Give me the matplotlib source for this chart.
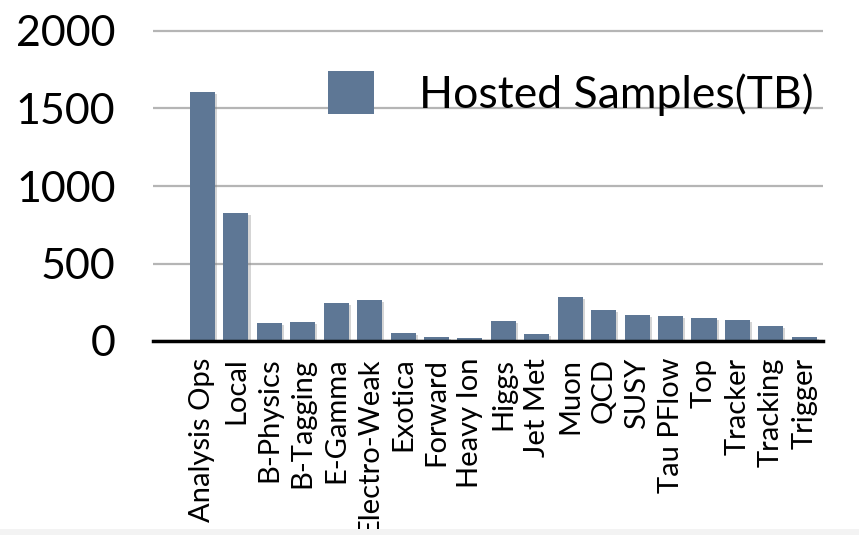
import matplotlib
matplotlib.use("Agg")
import matplotlib.pyplot as plt
import matplotlib.patheffects as pe
from matplotlib.patches import Patch, Rectangle

# data
groups = ["Analysis Ops", "Local", "B-Physics", "B-Tagging", "E-Gamma",
          "Electro-Weak", "Exotica", "Forward", "Heavy Ion", "Higgs",
          "Jet Met", "Muon", "QCD", "SUSY", "Tau PFlow", "Top",
          "Tracker", "Tracking", "Trigger"]
hosted_tb = [1605, 827, 117, 124, 246, 266, 53, 24, 18, 131,
             47, 284, 200, 168, 161, 148, 135, 97, 26]
y_ticks = [0, 500, 1000, 1500, 2000]

bar_color = "#5e7795"

plt.rcParams["font.family"] = ["Lato", "DejaVu Sans"]

fig = plt.figure(figsize=(8.59, 5.35), dpi=100)
fig.patch.set_facecolor("white")
ax = fig.add_axes([153 / 859, 1 - 341 / 535, (823 - 153) / 859, (341 - 27.9) / 535])

x = list(range(len(groups)))
bars = ax.bar(x, hosted_tb, width=0.75, color=bar_color, zorder=3)
for b in bars:
    b.set_path_effects([pe.SimplePatchShadow(offset=(1.5, -1.5), shadow_rgbFace="#888888", alpha=0.35),
                        pe.Normal()])

ax.set_xlim(-1.48, 18.56)
ax.set_ylim(0, 2020)
ax.set_yticks(y_ticks)
ax.set_yticklabels([str(v) for v in y_ticks], fontsize=31)
ax.set_xticks(x)
ax.set_xticklabels(groups, rotation=90, fontsize=21, va="top", ha="center")
ax.tick_params(axis="y", length=0, pad=27)
ax.tick_params(axis="x", length=0, pad=12)

ax.yaxis.grid(True, color="#b5b5b5", linewidth=1.6, zorder=0)
ax.set_axisbelow(True)
for side in ["left", "right", "top"]:
    ax.spines[side].set_visible(False)
ax.spines["bottom"].set_color("black")
ax.spines["bottom"].set_linewidth(2.5)
ax.spines["bottom"].set_zorder(4)

handle = Patch(facecolor=bar_color, edgecolor="none")
fig.legend([handle], ["Hosted Samples(TB)"], loc="center left",
           bbox_to_anchor=(328 / 859, 1 - 93.5 / 535), frameon=False,
           fontsize=32, handlelength=1.04, handleheight=1.08,
           handletextpad=1.0, borderpad=0, borderaxespad=0)

# light gray strip along the bottom edge
fig.patches.append(Rectangle((0, 0), 1, 6 / 535, transform=fig.transFigure,
                             facecolor="#f3f3f3", edgecolor="none", zorder=0))

fig.savefig("out.png", dpi=100)
